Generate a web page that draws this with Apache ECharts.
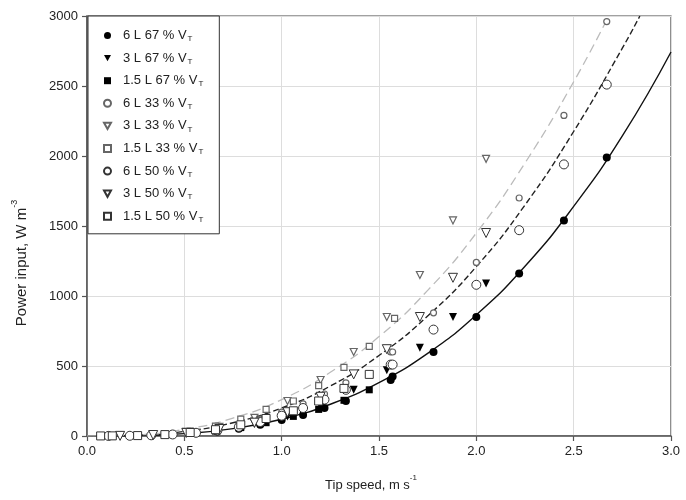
<!DOCTYPE html>
<html><head><meta charset="utf-8">
<script src="https://cdn.jsdelivr.net/npm/echarts@6/dist/echarts.min.js"></script>
<style>html,body{margin:0;padding:0;background:#fff}#c{width:686px;height:500px}</style>
</head><body><div id="c"></div>
<script>
// ---- data ----
const xTicks = [0.0, 0.5, 1.0, 1.5, 2.0, 2.5, 3.0];
const yTicks = [0, 500, 1000, 1500, 2000, 2500, 3000];

const v6 = [0.11, 0.22, 0.33, 0.44, 0.56, 0.67, 0.78, 0.89, 1.0, 1.11, 1.22, 1.33, 1.56, 1.57, 1.78, 2.0, 2.22, 2.45, 2.67];
const p6_67 = [1, 2, 4, 10, 20, 33, 52, 80, 115, 150, 200, 250, 400, 425, 600, 850, 1160, 1540, 1990];
const p6_33 = [0.5, 2, 6, 15, 30, 50, 80, 120, 170, 230, 300, 380, 600, 600, 880, 1240, 1700, 2290, 2960];
const p6_50 = [0.5, 1.5, 5, 11, 23, 40, 65, 100, 145, 200, 260, 330, 510, 510, 760, 1080, 1470, 1940, 2510];

const v3 = [0.17, 0.34, 0.51, 0.68, 0.86, 1.03, 1.20, 1.37, 1.54, 1.71, 1.88, 2.05];
const p3_67 = [2, 7, 20, 45, 85, 140, 210, 330, 470, 630, 850, 1090];
const p3_33 = [2, 10, 30, 65, 130, 250, 400, 600, 850, 1150, 1540, 1980];
const p3_50 = [1, 7, 22, 50, 95, 170, 280, 440, 620, 850, 1130, 1450];

const v15 = [0.07, 0.13, 0.26, 0.40, 0.53, 0.66, 0.79, 0.92, 1.06, 1.19, 1.32, 1.45, 1.58];
const p15_67 = [0.5, 1, 3, 8, 18, 35, 60, 95, 140, 190, 255, 330, null];
const p15_33 = [0.5, 1, 5, 15, 35, 70, 120, 190, 250, 360, 490, 640, 840];
const p15_50 = [0.5, 1, 3, 10, 25, 45, 80, 125, 180, 250, 340, 440, null];

// fitted curves
const fitSolidX = [0, 0.25, 0.5, 0.75, 1.0, 1.25, 1.5, 1.75, 2.0, 2.25, 2.5, 2.75, 3.0];
const fitSolidY = [0, 2.3, 17, 53, 120, 227, 381, 590, 865, 1212, 1640, 2143, 2743];
const fitDarkX = [0, 0.25, 0.5, 0.75, 1.0, 1.25, 1.5, 1.75, 2.0, 2.25, 2.5, 2.75, 2.84];
const fitDarkY = [0, 5, 33, 95, 200, 357, 575, 857, 1210, 1650, 2175, 2770, 3000];
const fitLightX = [0, 0.25, 0.5, 0.75, 1.0, 1.25, 1.5, 1.75, 2.0, 2.25, 2.5, 2.68];
const fitLightY = [0, 8, 47, 128, 260, 455, 710, 1040, 1450, 1950, 2530, 3000];

const names = ['6 L 67 %', '3 L 67 %', '1.5 L 67 %', '6 L 33 %', '3 L 33 %', '1.5 L 33 %', '6 L 50 %', '3 L 50 %', '1.5 L 50 %'];

// ---- build ----
const zip = (xs, ys) => xs.map((x, i) => [x, ys[i]]).filter(d => d[1] !== null);
const DOWN = 'path://M0,0 L10,0 L5,9 Z';
const FONT = 'Liberation Sans, Arial, sans-serif';

function sc(name, data, symbol, size, fill, border, bw) {
  return {
    name, type: 'scatter', data, symbol, symbolSize: size, z: 5,
    itemStyle: { color: fill, borderColor: border, borderWidth: bw, opacity: 1 },
    emphasis: { disabled: true }
  };
}
function ln(x, y, color, type, width) {
  return {
    type: 'line', data: zip(x, y), smooth: true, showSymbol: false, symbol: 'none', z: 3,
    lineStyle: { color, type, width }, silent: true, clip: true
  };
}

const series = [
  ln(fitSolidX, fitSolidY, '#111', 'solid', 1.4),
  ln(fitDarkX, fitDarkY, '#222', [6, 3], 1.4),
  ln(fitLightX, fitLightY, '#bbb', [9, 5], 1.3),
  sc(names[0], zip(v6, p6_67), 'circle', 8, '#000', '#000', 0),
  sc(names[1], zip(v3, p3_67), DOWN, 8, '#000', '#000', 0),
  sc(names[2], zip(v15, p15_67), 'rect', 7, '#000', '#000', 0),
  sc(names[3], zip(v6, p6_33), 'circle', 6, '#fff', '#666', 1.2),
  sc(names[4], zip(v3, p3_33), DOWN, 7, '#fff', '#666', 1.2),
  sc(names[5], zip(v15, p15_33), 'rect', 6, '#fff', '#666', 1.2),
  sc(names[6], zip(v6, p6_50), 'circle', 9, '#fff', '#333', 1),
  sc(names[7], zip(v3, p3_50), DOWN, 9, '#fff', '#333', 1),
  sc(names[8], zip(v15, p15_50), 'rect', 8, '#fff', '#333', 1)
];

const chart = echarts.init(document.getElementById('c'), null, { renderer: 'canvas' });
chart.setOption({
  animation: false,
  backgroundColor: '#fff',
  textStyle: { fontFamily: FONT },
  grid: { left: 87, right: 15, top: 16, bottom: 64, show: true, borderColor: '#444', borderWidth: 1.2, backgroundColor: 'transparent' },
  xAxis: {
    type: 'value', min: 0, max: 3, interval: 0.5,
    name: '{t|Tip speed, m s}{s|-1}', nameLocation: 'middle', nameGap: 38,
    nameTextStyle: { rich: { t: { fontSize: 13, color: '#222', lineHeight: 18, verticalAlign: 'bottom', fontFamily: FONT }, s: { fontSize: 8, color: '#222', lineHeight: 8, verticalAlign: 'top', fontFamily: FONT } }, padding: [0, 16, 0, 0] },
    axisLine: { show: true, lineStyle: { color: '#555', width: 1.5 } },
    axisTick: { show: true, inside: false, length: 5, lineStyle: { color: '#555', width: 1.2 } },
    axisLabel: { fontSize: 13, color: '#222', margin: 9, formatter: v => xTicks.includes(v) ? v.toFixed(1) : '' },
    splitLine: { show: true, lineStyle: { color: '#ddd', width: 1 } }
  },
  yAxis: {
    type: 'value', min: 0, max: 3000, interval: 500,
    name: '{t|Power input, W m}{s|-3}', nameLocation: 'middle', nameGap: 58,
    nameTextStyle: { rich: { t: { fontSize: 15, color: '#222', lineHeight: 19, verticalAlign: 'bottom', fontFamily: FONT }, s: { fontSize: 9, color: '#222', lineHeight: 9, verticalAlign: 'top', fontFamily: FONT } }, padding: [0, 74, 0, 0] },
    axisLine: { show: true, lineStyle: { color: '#555', width: 1.5 } },
    axisTick: { show: true, inside: false, length: 5, lineStyle: { color: '#555', width: 1.2 } },
    axisLabel: { fontSize: 13, color: '#222', margin: 9, formatter: v => yTicks.includes(v) ? String(v) : '' },
    splitLine: { show: true, lineStyle: { color: '#ddd', width: 1 } }
  },
  legend: {
    data: names, orient: 'vertical', left: 88, top: 16,
    padding: [13, 16, 10, 15], itemGap: 8.6, itemWidth: 7, itemHeight: 7,
    backgroundColor: '#fff', borderColor: '#333', borderWidth: 1, borderRadius: 0,
    selectedMode: false,
    formatter: n => '{a|' + n + ' V}{s|T}',
    textStyle: {
      rich: {
        a: { fontSize: 13, color: '#222', lineHeight: 15, verticalAlign: 'middle', padding: [0, 0, 0, 7], fontFamily: FONT },
        s: { fontSize: 8, color: '#222', lineHeight: 8, verticalAlign: 'bottom', padding: [0, 0, 0, 1], fontFamily: FONT }
      }
    }
  },
  series
});
</script>
</body></html>
